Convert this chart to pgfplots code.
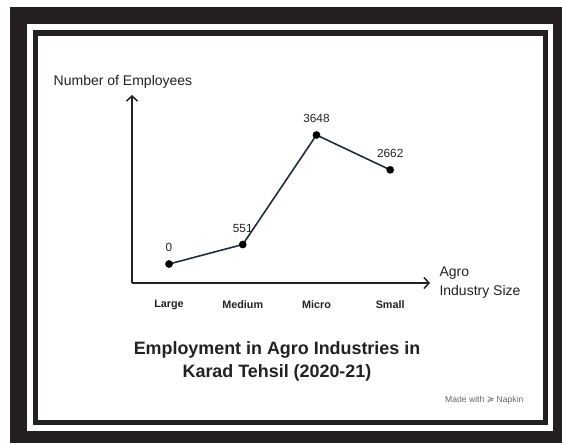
\documentclass[border=0pt]{standalone}
\usepackage{pgfplots}
\pgfplotsset{compat=1.18}
\usepackage{fontspec}
\setmainfont{Liberation Sans}
\newfontfamily\symfont{DejaVu Sans}
\usetikzlibrary{arrows.meta}
\definecolor{framedark}{HTML}{231F20}
\definecolor{txt}{HTML}{222222}
\definecolor{linecol}{HTML}{1F2D3D}
\definecolor{napkin}{HTML}{666666}
\begin{document}
\begin{tikzpicture}[x=1pt,y=1pt]
\useasboundingbox (0,0) rectangle (562,443);
\fill[white] (0,0) rectangle (562,443);
\fill[framedark] (10,0) rectangle (562,436);
\fill[white] (27,12) rectangle (553,419);
\fill[framedark] (33,18) rectangle (548,413);
\fill[white] (38,23) rectangle (543,407);
\begin{axis}[
  at={(132pt,160pt)}, anchor=south west,
  scale only axis, width=298pt, height=188pt,
  xmin=-0.502, xmax=3.54, ymin=-537, ymax=4779,
  axis lines=left,
  axis line style={draw=txt, line width=1.6pt, -{Straight Barb[length=5pt,width=11pt,line width=1.5pt]}},
  xtick={0,1,2,3},
  xticklabels={Large,Medium,Micro,Small},
  xticklabel style={font=\bfseries\fontsize{10.8}{12}\selectfont, text=txt, yshift=-14pt},
  ytick=\empty,
  major tick length=0pt,
  clip=false,
  /pgf/number format/assume math mode=true,
  nodes near coords,
  nodes near coords style={font=\fontsize{11.8}{13}\selectfont, text=txt, yshift=8pt,
    /pgf/number format/fixed, /pgf/number format/precision=0, /pgf/number format/1000 sep={}},
]
\addplot[color=linecol, line width=1.6pt, mark=*, mark size=3pt,
  mark options={fill=black, draw=black}] coordinates {
  (0,0) (1,551) (2,3648) (3,2662)
};
\end{axis}
\node[font=\fontsize{14}{17}\selectfont, text=txt] at (123,361) {Number of Employees};
\node[font=\fontsize{14}{19}\selectfont, text=txt, anchor=west, align=left] at (436,160) {Agro\\Industry Size};
\node[font=\bfseries\fontsize{17.9}{23}\selectfont, text=txt, align=center] at (277,81.5) {Employment in Agro Industries in\\Karad Tehsil (2020-21)};
\node[font=\fontsize{8.6}{10}\selectfont, text=napkin, anchor=east] at (527,43) {Made with {\symfont\fontsize{9}{10}\selectfont ≽} Napkin};
\end{tikzpicture}
\end{document}
